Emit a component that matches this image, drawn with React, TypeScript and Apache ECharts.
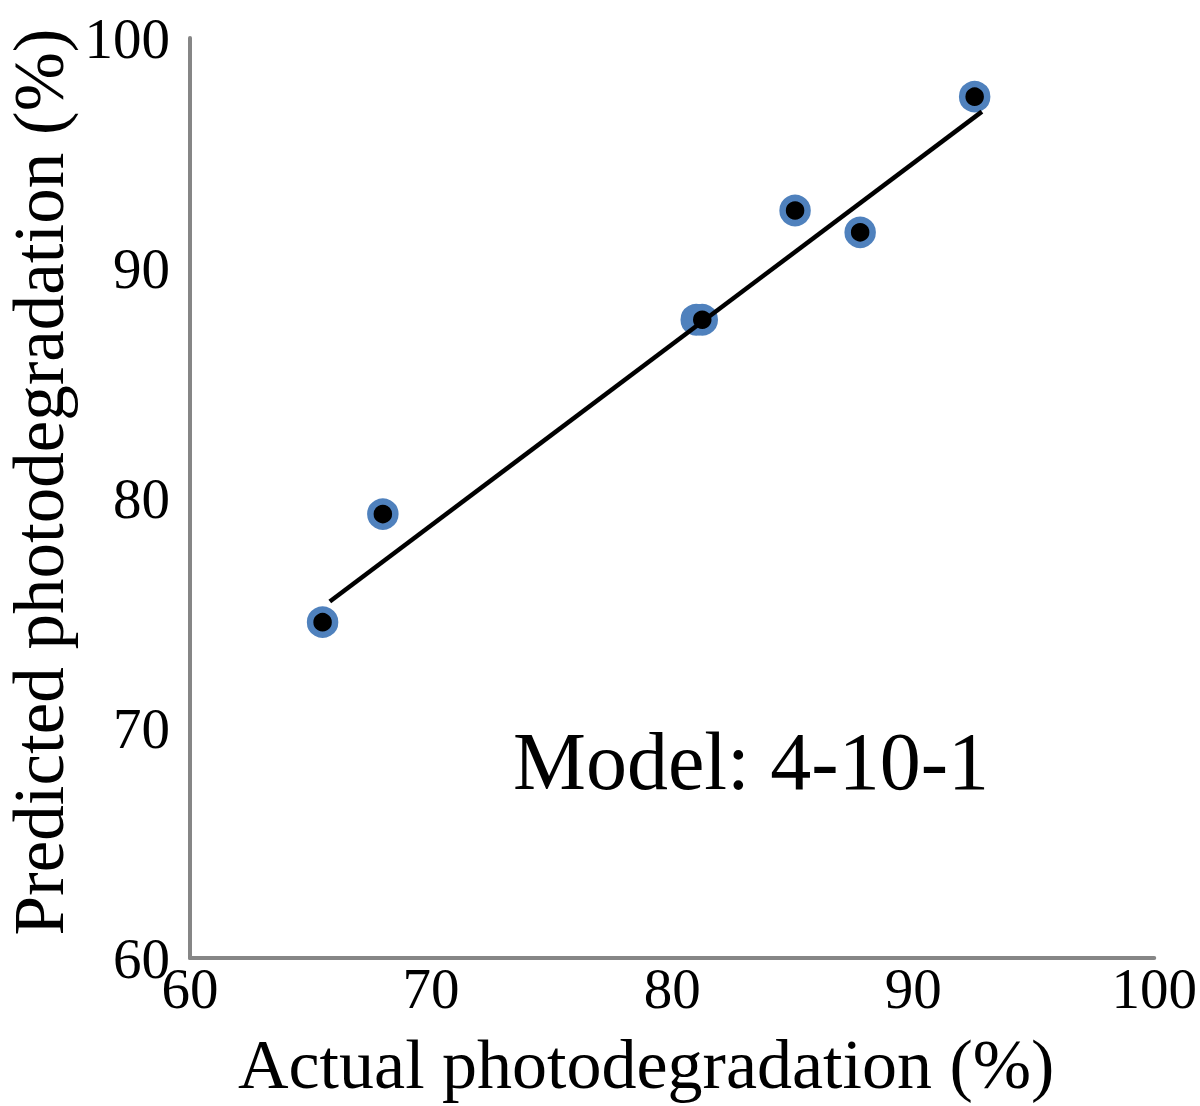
import React, { useEffect, useRef } from "react";
import * as echarts from "echarts";

const actual = [65.5, 68.0, 81.0, 81.25, 85.1, 87.8, 92.55];
const predicted = [74.6, 79.3, 87.75, 87.75, 92.5, 91.55, 97.45];
const trendX = [65.8, 92.85];
const trendY = [75.5, 96.8];
const xTicks = [60, 70, 80, 90, 100];
const yTicks = [60, 70, 80, 90, 100];
const xTitle = "Actual photodegradation (%)";
const yTitle = "Predicted photodegradation (%)";
const modelLabel = "Model: 4-10-1";

const FONT = "'Liberation Serif', 'Times New Roman', serif";

export default function App() {
  const ref = useRef<HTMLDivElement>(null);
  useEffect(() => {
    if (!ref.current) return;
    const chart = echarts.init(ref.current, null, { renderer: "svg" });
    const axisCommon = {
      type: "value" as const,
      interval: 10,
      axisLine: { show: true, lineStyle: { color: "#868686", width: 4 } },
      axisTick: { show: false },
      splitLine: { show: false },
    };
    chart.setOption({
      animation: false,
      backgroundColor: "#ffffff",
      grid: { left: 190, top: 38, right: 45, bottom: 148, containLabel: false },
      xAxis: {
        ...axisCommon,
        min: xTicks[0],
        max: xTicks[xTicks.length - 1],
        axisLabel: {
          color: "#000",
          fontFamily: FONT,
          fontSize: 57,
          margin: 2,
          showMinLabel: true,
          showMaxLabel: true,
        },
      },
      yAxis: {
        ...axisCommon,
        min: yTicks[0],
        max: yTicks[yTicks.length - 1],
        axisLabel: {
          color: "#000",
          fontFamily: FONT,
          fontSize: 57,
          margin: 20,
          showMinLabel: true,
          showMaxLabel: true,
        },
      },
      series: [
        {
          type: "scatter",
          data: actual.map((x, i) => [x, predicted[i]]),
          symbol: "circle",
          symbolSize: 25,
          itemStyle: { color: "#000000", borderColor: "#4f81bd", borderWidth: 6.5, opacity: 1 },
        },
        {
          type: "line",
          data: trendX.map((x, i) => [x, trendY[i]]),
          showSymbol: false,
          symbol: "none",
          lineStyle: { color: "#000000", width: 4.5 },
        },
      ],
      graphic: [
        {
          type: "text",
          left: 238,
          top: 1029,
          style: { text: xTitle, font: `70px ${FONT}`, fill: "#000" },
        },
        {
          type: "text",
          x: 74,
          y: 482,
          rotation: Math.PI / 2,
          style: {
            text: yTitle,
            font: `71px ${FONT}`,
            fill: "#000",
            textAlign: "center",
            textVerticalAlign: "bottom",
          },
        },
        {
          type: "text",
          x: 513,
          y: 720,
          style: {
            text: modelLabel,
            font: `82px ${FONT}`,
            fill: "#000",
            textAlign: "left",
            textVerticalAlign: "top",
          },
        },
      ],
    });
    return () => chart.dispose();
  }, []);
  return (
    <div
      ref={ref}
      style={{ position: "fixed", left: 0, top: 0, width: 1200, height: 1106 }}
    />
  );
}
